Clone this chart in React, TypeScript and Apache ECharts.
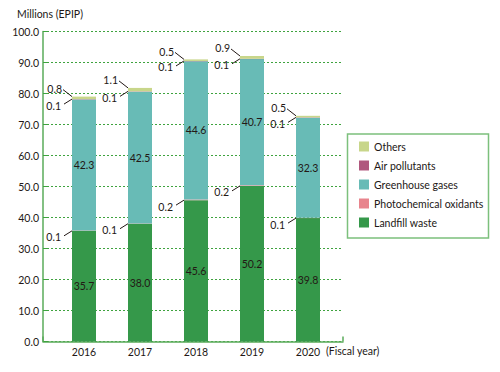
import React, { useEffect, useRef } from "react";
import * as echarts from "echarts";

const years = ["2016", "2017", "2018", "2019", "2020"];
const landfill = [35.7, 38.0, 45.6, 50.2, 39.8];
const photochem = [0.1, 0.1, 0.2, 0.2, 0.1];
const ghg = [42.3, 42.5, 44.6, 40.7, 32.3];
const air = [0.1, 0.1, 0.1, 0.1, 0.1];
const others = [0.8, 1.1, 0.5, 0.9, 0.5];
const yMin = 0;
const yMax = 100;
const yInterval = 10;

const FONT = "Lato";
const TXT = "#231815";
const FS = 10.5;

const colors = {
  others: "#c8d68a",
  air: "#b0587e",
  ghg: "#68bbb6",
  photo: "#e8848d",
  landfill: "#35984a",
};

export default function App() {
  const ref = useRef<HTMLDivElement>(null);
  useEffect(() => {
    if (!ref.current) return;
    const chart = echarts.init(ref.current, undefined, { renderer: "svg" });

    // callout data: [catIndex, anchorValue, label, kind]  kind 0: below-left, 1: above-left
    const callouts: any[] = [];
    years.forEach((_, i) => {
      const a2 = landfill[i] + photochem[i] + ghg[i] + air[i];
      const a3 = a2 + others[i];
      callouts.push([i, landfill[i], photochem[i].toFixed(1), 0]);
      callouts.push([i, a2, air[i].toFixed(1), 0]);
      callouts.push([i, a3, others[i].toFixed(1), 1]);
    });

    const BW = 24;
    const barLabel = {
      show: true,
      position: "inside" as const,
      color: TXT,
      fontFamily: FONT,
      fontSize: FS,
      formatter: (p: any) => p.value.toFixed(1),
    };

    chart.setOption({
      animation: false,
      textStyle: { fontFamily: FONT },
      grid: [
        { left: 43, top: 31.5, width: 300, height: 310 },
        { left: 56, top: 31.5, width: 280, height: 310 },
      ],
      xAxis: [
        {
          gridIndex: 0,
          type: "value",
          min: 0,
          max: 1,
          interval: 1,
          axisLine: { show: true, lineStyle: { color: "#5aab5a", width: 1.5 } },
          axisTick: { show: true, inside: true, length: 5, lineStyle: { color: "#5aab5a", width: 1.5 } },
          axisLabel: { show: false },
          splitLine: { show: false },
        },
        {
          gridIndex: 1,
          type: "category",
          data: years,
          axisLine: { show: false },
          axisTick: { show: false },
          axisLabel: { color: TXT, fontFamily: FONT, fontSize: FS, margin: 5 },
        },
      ],
      yAxis: [
        {
          gridIndex: 0,
          type: "value",
          min: yMin,
          max: yMax,
          interval: yInterval,
          axisLine: { show: true, lineStyle: { color: "#5aab5a", width: 1.5 } },
          axisTick: { show: true, inside: true, length: 5, lineStyle: { color: "#3fa33f", width: 1 } },
          axisLabel: {
            color: TXT,
            fontFamily: FONT,
            fontSize: FS,
            margin: 4,
            formatter: (v: number) => v.toFixed(1),
          },
          splitLine: { show: true, lineStyle: { color: "#3fa33f", width: 1, type: [2, 2] } },
        },
        {
          gridIndex: 1,
          type: "value",
          min: yMin,
          max: yMax,
          interval: yInterval,
          show: false,
        },
      ],
      legend: {
        orient: "vertical",
        left: 359,
        top: 141,
        itemWidth: 10,
        itemHeight: 10,
        itemGap: 8,
        icon: "rect",
        padding: 0,
        textStyle: { color: TXT, fontFamily: FONT, fontSize: FS },
        data: ["Others", "Air pollutants", "Greenhouse gases", "Photochemical oxidants", "Landfill waste"],
      },
      graphic: [
        {
          type: "text",
          left: 17,
          top: 8,
          style: { text: "Millions (EPIP)", fill: TXT, font: `${FS}px "${FONT}"` },
        },
        {
          type: "text",
          left: 326,
          top: 345,
          style: { text: "(Fiscal year)", fill: TXT, font: `${FS}px "${FONT}"` },
        },
        {
          type: "rect",
          shape: { x: 347.5, y: 134, width: 141, height: 104 },
          style: { fill: "none", stroke: "#7cc07c", lineWidth: 1.5 },
        },
      ],
      series: [
        {
          name: "Landfill waste",
          type: "bar",
          stack: "t",
          xAxisIndex: 1,
          yAxisIndex: 1,
          barWidth: BW,
          itemStyle: { color: colors.landfill },
          label: barLabel,
          data: landfill,
        },
        {
          name: "Photochemical oxidants",
          type: "bar",
          stack: "t",
          xAxisIndex: 1,
          yAxisIndex: 1,
          barWidth: BW,
          itemStyle: { color: colors.photo },
          data: photochem,
        },
        {
          name: "Greenhouse gases",
          type: "bar",
          stack: "t",
          xAxisIndex: 1,
          yAxisIndex: 1,
          barWidth: BW,
          itemStyle: { color: colors.ghg },
          label: barLabel,
          data: ghg,
        },
        {
          name: "Air pollutants",
          type: "bar",
          stack: "t",
          xAxisIndex: 1,
          yAxisIndex: 1,
          barWidth: BW,
          itemStyle: { color: colors.air },
          data: air,
        },
        {
          name: "Others",
          type: "bar",
          stack: "t",
          xAxisIndex: 1,
          yAxisIndex: 1,
          barWidth: BW,
          itemStyle: { color: colors.others },
          data: others,
        },
        {
          type: "custom",
          xAxisIndex: 1,
          yAxisIndex: 1,
          clip: false,
          silent: true,
          data: callouts,
          renderItem: (params: any, api: any) => {
            const p = api.coord([api.value(0), api.value(1)]);
            const ax = p[0] - BW / 2;
            const ay = p[1];
            const kind = api.value(3);
            const label = callouts[params.dataIndex][2];
            if (kind === 1) {
              return {
                type: "group",
                children: [
                  {
                    type: "line",
                    shape: { x1: ax - 9, y1: ay - 7, x2: ax, y2: ay },
                    style: { stroke: "#231815", lineWidth: 1 },
                  },
                  {
                    type: "text",
                    x: ax - 10,
                    y: ay - 7.5,
                    style: {
                      text: label,
                      fill: TXT,
                      font: `${FS}px "${FONT}"`,
                      align: "right",
                      verticalAlign: "middle",
                    },
                  },
                ],
              };
            }
            return {
              type: "group",
              children: [
                {
                  type: "line",
                  shape: { x1: ax - 8, y1: ay + 5, x2: ax, y2: ay },
                  style: { stroke: "#231815", lineWidth: 1 },
                },
                {
                  type: "text",
                  x: ax - 11,
                  y: ay + 6.5,
                  style: {
                    text: label,
                    fill: TXT,
                    font: `${FS}px "${FONT}"`,
                    align: "right",
                    verticalAlign: "middle",
                  },
                },
              ],
            };
          },
        },
      ],
    });
    return () => chart.dispose();
  }, []);
  return (
    <div
      ref={ref}
      style={{ position: "fixed", left: 0, top: 0, width: 500, height: 372, background: "#fff" }}
    />
  );
}
